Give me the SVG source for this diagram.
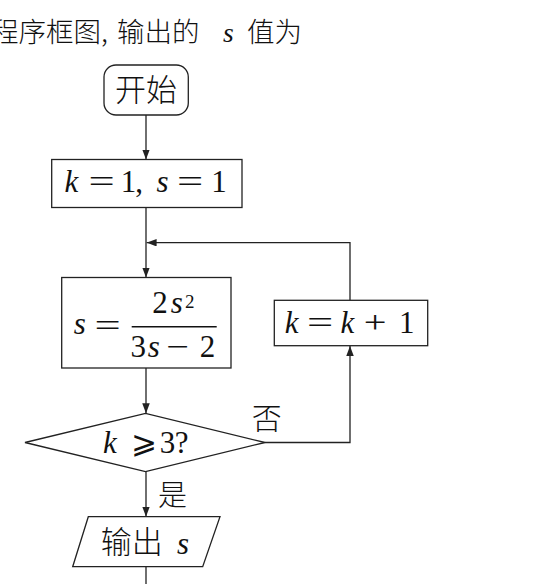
<svg xmlns="http://www.w3.org/2000/svg" width="541" height="584" viewBox="0 0 541 584">
<style>
.sh{fill:none;stroke:#222;stroke-width:1.3}
.cn{fill:none;stroke:#222;stroke-width:1.3}
.cjk{font-family:"Noto Sans CJK SC","Noto Sans CJK JP",sans-serif;font-weight:300;fill:#111}
.m{font-family:"Liberation Serif","DejaVu Serif",serif;fill:#111;font-size:31px}
.i{font-style:italic}
.c{text-anchor:middle}
</style>
<defs>
<marker id="ah" markerUnits="userSpaceOnUse" markerWidth="10" markerHeight="8" refX="10" refY="3.75" orient="auto">
<path d="M0,0 L10,3.75 L0,7.5 z" fill="#222"/>
</marker>
</defs>
<rect width="541" height="584" fill="#fff"/>
<g id="title">
<text class="cjk" x="-9" y="41.5" font-size="27.5">程序框图,</text>
<text class="cjk" x="117" y="41.5" font-size="27.5">输出的</text>
<text class="m i c" x="228.3" y="41.5" style="font-size:27.5px">s</text>
<text class="cjk" x="247" y="41.5" font-size="27.5">值为</text>
</g>
<g id="connectors">
<line class="cn" x1="146" y1="115" x2="146" y2="159.5" marker-end="url(#ah)"/>
<line class="cn" x1="146" y1="207.5" x2="146" y2="277.5" marker-end="url(#ah)"/>
<line class="cn" x1="146" y1="368" x2="146" y2="413.3" marker-end="url(#ah)"/>
<line class="cn" x1="146" y1="471.7" x2="146" y2="516.7" marker-end="url(#ah)"/>
<line class="cn" x1="146" y1="566.7" x2="146" y2="590"/>
<polyline class="cn" points="265,442.5 350,442.5 350,346" marker-end="url(#ah)"/>
<polyline class="cn" points="350,300.3 350,242.7 146.6,242.7" marker-end="url(#ah)"/>
</g>
<g id="start">
<rect class="sh" x="104" y="65" width="84.3" height="50" rx="12"/>
<text class="cjk c" x="146" y="101" font-size="31">开始</text>
</g>
<g id="init">
<rect class="sh" x="51.7" y="159.5" width="190.3" height="48"/>
<text class="m i c" x="71.5" y="192.3">k</text>
<text class="m c" transform="translate(101.5,192.3) scale(1.5,1)">=</text>
<text class="m c" x="128.5" y="192.3">1</text>
<text class="m c" x="139" y="192.3">,</text>
<text class="m i c" x="162.5" y="192.3">s</text>
<text class="m c" transform="translate(190,192.3) scale(1.5,1)">=</text>
<text class="m c" x="219" y="192.3">1</text>
</g>
<g id="update-s">
<rect class="sh" x="61.7" y="277.5" width="169.3" height="90.5"/>
<text class="m i c" x="79.7" y="333.5">s</text>
<text class="m c" transform="translate(107.5,335.5) scale(1.5,1)">=</text>
<text class="m c" x="160" y="312.7">2</text>
<text class="m i c" x="176.7" y="312.7">s</text>
<text class="m c" x="189.7" y="307.5" style="font-size:19px">2</text>
<line x1="131.7" y1="326.7" x2="216.7" y2="326.7" stroke="#111" stroke-width="1.4"/>
<text class="m c" x="138.3" y="357">3</text>
<text class="m i c" x="153.7" y="357">s</text>
<text class="m c" transform="translate(177.5,357) scale(1.3,1)">−</text>
<text class="m c" x="207.5" y="357">2</text>
</g>
<g id="increment">
<rect class="sh" x="274.3" y="300.3" width="153.4" height="45.4"/>
<text class="m i c" x="291.7" y="333">k</text>
<text class="m c" transform="translate(320,333) scale(1.5,1)">=</text>
<text class="m i c" x="347.5" y="333">k</text>
<text class="m c" transform="translate(375,333) scale(1.3,1)">+</text>
<text class="m c" x="406.7" y="333">1</text>
</g>
<g id="decision">
<polygon class="sh" points="25,442.5 145.5,413.3 265,442.5 145.5,471.7"/>
<text class="m i c" x="110" y="453.3">k</text>
<text class="m c" x="144.2" y="453.3" style="font-family:'DejaVu Sans','Liberation Serif',serif;font-weight:normal">⩾</text>
<text class="m c" x="167.5" y="453.3">3</text>
<text class="m c" x="181.7" y="453.3">?</text>
</g>
<g id="labels">
<text class="cjk c" x="266.7" y="428.5" font-size="30">否</text>
<text class="cjk c" x="172.5" y="506" font-size="29">是</text>
</g>
<g id="output">
<polygon class="sh" points="88.3,516.7 220,516.7 202.7,566.7 72.7,566.7"/>
<text class="cjk c" x="131.7" y="553" font-size="31">输出</text>
<text class="m i c" x="183" y="554">s</text>
</g>
</svg>
